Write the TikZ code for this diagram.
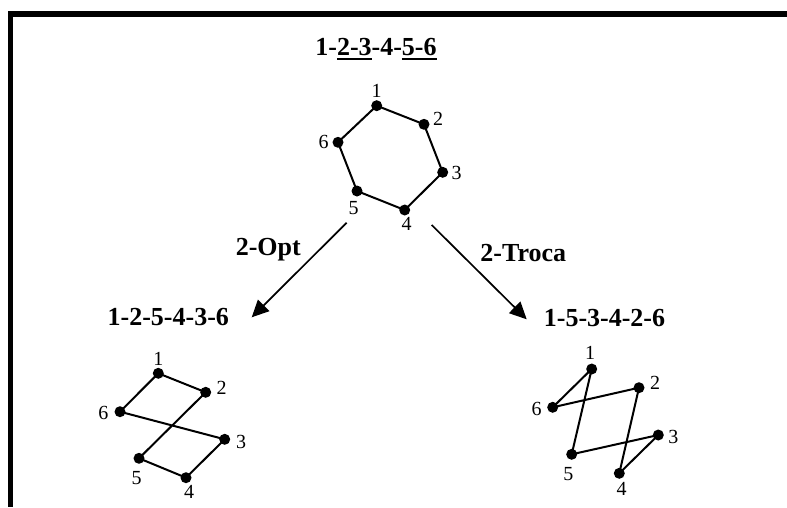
\documentclass[tikz,border=0pt]{standalone}
\usepackage{fontspec}
\setmainfont{Liberation Serif}
\usetikzlibrary{arrows.meta}
\newcommand\myul[1]{\setbox0\hbox{#1}\rlap{\rule[-5.3pt]{\wd0}{2.2pt}}\box0}
\tikzset{
  dot/.style={circle,fill=black,inner sep=0pt,minimum size=11pt},
  lab/.style={inner sep=0pt,font=\fontsize{20}{23}\selectfont},
  ttl/.style={inner sep=0pt,anchor=base,font=\fontsize{26}{30}\selectfont\bfseries},
  edge/.style={line width=2pt,line join=round},
  arr/.style={line width=1.7pt,-{Triangle[length=17pt,width=16pt]}}
}
\begin{document}
\begin{tikzpicture}[x=1pt,y=-1pt]
\useasboundingbox (0,0) rectangle (787,507);
% frame
\fill (8,11) rectangle (787,17);
\fill (8,11) rectangle (13,507);
% top
\node[ttl] (t0) at (376,55) {1-\myul{2-3}-4-\myul{5-6}};
\node[dot] (a1) at (376.7,105.7) {};
\node[dot] (a2) at (424,124.3) {};
\node[dot] (a3) at (442.7,172.3) {};
\node[dot] (a4) at (404.7,210) {};
\node[dot] (a5) at (357,191) {};
\node[dot] (a6) at (338,142.3) {};
\node[lab] (a1l) at (376.7,90.7) {1};
\node[lab] (a2l) at (438,119) {2};
\node[lab] (a3l) at (456.7,173.3) {3};
\node[lab] (a4l) at (406.7,224) {4};
\node[lab] (a5l) at (353.7,207.7) {5};
\node[lab] (a6l) at (323.7,141.7) {6};
\draw[edge] (a1.center) -- (a2.center) -- (a3.center) -- (a4.center) -- (a5.center) -- (a6.center) -- cycle;
% arrows
\coordinate (s1) at (346.7,222.7);
\coordinate (e1) at (251.7,317.3);
\coordinate (s2) at (431.7,225);
\coordinate (e2) at (526.7,319.3);
\draw[arr] (s1) -- (e1);
\draw[arr] (s2) -- (e2);
\node[ttl] (opt) at (268.3,255) {2-Opt};
\node[ttl] (troca) at (523.3,261.7) {2-Troca};
% left
\node[ttl] (t1) at (168.3,325) {1-2-5-4-3-6};
\node[dot] (b1) at (158.3,373.3) {};
\node[dot] (b2) at (205.7,392.3) {};
\node[dot] (b3) at (224.7,439.3) {};
\node[dot] (b4) at (186,477.7) {};
\node[dot] (b5) at (139,458.3) {};
\node[dot] (b6) at (120,411.7) {};
\node[lab] (b1l) at (158.3,359.3) {1};
\node[lab] (b2l) at (221.7,388.3) {2};
\node[lab] (b3l) at (241,441.7) {3};
\node[lab] (b4l) at (189,491.7) {4};
\node[lab] (b5l) at (136.7,478.3) {5};
\node[lab] (b6l) at (103.3,413.3) {6};
\draw[edge] (b1.center) -- (b2.center) -- (b5.center) -- (b4.center) -- (b3.center) -- (b6.center) -- cycle;
% right
\node[ttl] (t2) at (604.5,326) {1-5-3-4-2-6};
\node[dot] (c1) at (591.7,369) {};
\node[dot] (c2) at (639,387.7) {};
\node[dot] (c3) at (658.3,435) {};
\node[dot] (c4) at (619.3,473.3) {};
\node[dot] (c5) at (571.7,454.3) {};
\node[dot] (c6) at (552.7,407.3) {};
\node[lab] (c1l) at (590,353.3) {1};
\node[lab] (c2l) at (655,383.3) {2};
\node[lab] (c3l) at (673.3,436.7) {3};
\node[lab] (c4l) at (621.7,489.3) {4};
\node[lab] (c5l) at (568.3,474) {5};
\node[lab] (c6l) at (536.7,409.3) {6};
\draw[edge] (c1.center) -- (c5.center) -- (c3.center) -- (c4.center) -- (c2.center) -- (c6.center) -- cycle;
\end{tikzpicture}
\end{document}
